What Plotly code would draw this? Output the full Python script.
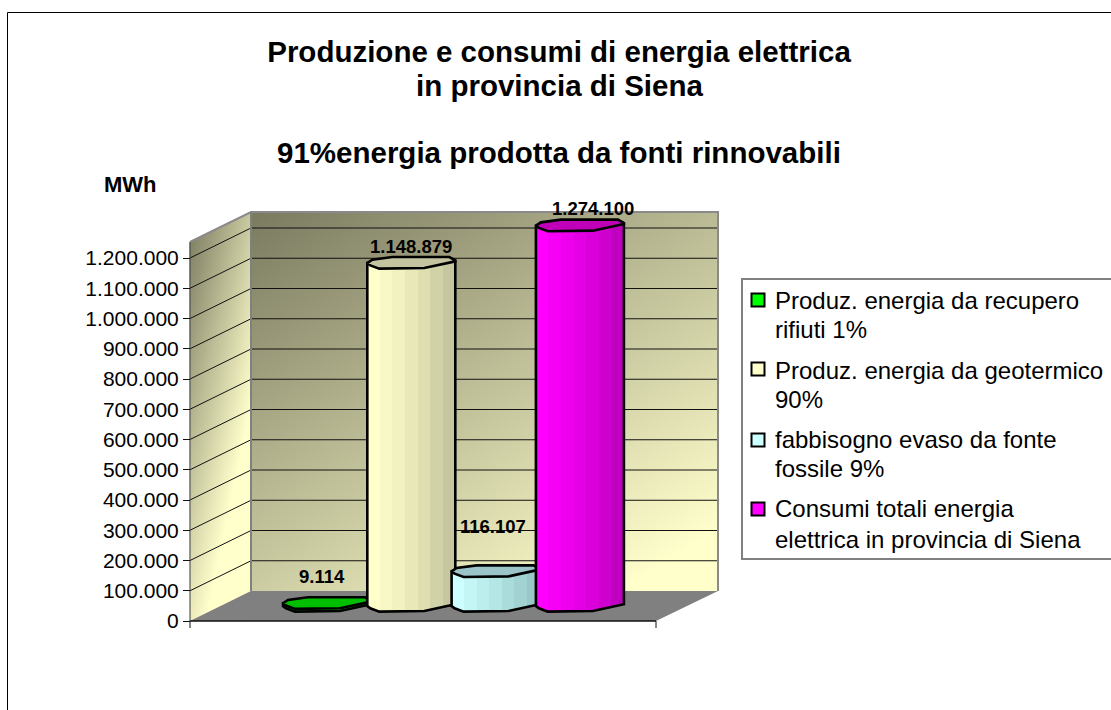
import numpy as np
import plotly.graph_objects as go

# ---- data ----
categories = [
    ["Produz. energia da recupero", "rifiuti 1%"],
    ["Produz. energia da geotermico", "90%"],
    ["fabbisogno evaso da fonte", "fossile 9%"],
    ["Consumi totali energia", "elettrica in provincia di Siena"],
]
values = [9114, 1148879, 116107, 1274100]
tick_values = [i * 100000 for i in range(13)]
tick_labels = ["0", "100.000", "200.000", "300.000", "400.000", "500.000", "600.000",
               "700.000", "800.000", "900.000", "1.000.000", "1.100.000", "1.200.000"]
title_main = "Produzione e consumi di energia elettrica"
title_rest = ["in provincia di Siena", "91%energia prodotta da fonti rinnovabili"]
unit_label = "MWh"

# ---- style ----
FONT = "Liberation Sans"
W, H = 1111, 710
Y0, PX_PER_UNIT = 621, 363 / 1200000
WALL_L, WALL_R, FLOOR_R, DX, DY = 190, 251, 718, 61, 30
FRONT_R = 656
TOP_PX = 212


def val(py):
    return (Y0 - py) / PX_PER_UNIT


depth = DY / PX_PER_UNIT
top_val = val(TOP_PX + DY)
bar_scale, bar_lift = 0.9868, val(606)
bar_first_centre, bar_step = 327, 84.3
cap_x = np.array([-44, -39, -19, 38, 44, 44, 13, -32, -41], float)
cap_y = np.array([0, 3.3, 6, 6, 2.7, 1.7, -5, -5.6, -2.3], float) / PX_PER_UNIT
palette = [
    dict(body=["#00D000", "#00C800", "#00C000", "#00B800", "#00B000", "#00A800", "#00A000"],
         cap="#00BF00", key="#00FF00"),
    dict(body=["#FFFFCC", "#F8F8C6", "#F2F2C0", "#E8E8B8", "#DEDEB0", "#D2D2A8", "#C6C6A0"],
         cap="#C4C4A0", key="#FFFFCC"),
    dict(body=["#CCFFFF", "#C4F6F6", "#BCEEEE", "#B4E6E6", "#ABDCDC", "#A2D2D2", "#99C8C8"],
         cap="#9BC4C8", key="#CCFFFF"),
    dict(body=["#FF00FF", "#F600F6", "#EE00EE", "#E400E4", "#DA00DA", "#CE00CE", "#C000C0"],
         cap="#C000B8", key="#FF00FF"),
]
label_pos = [(322, 576), (411, 246), (493, 526), (593, 208)]
key_y = [300, 369, 440, 509]
text_rows = [(300, 329), (370, 399), (439, 468), (508, 539)]

traces = []

# back wall (1 px cells so that the image does not spill past the wall)
bx = np.arange(WALL_R, FLOOR_R + 1.0)
by = np.arange(TOP_PX, 592.0)
u, v = np.meshgrid((bx - WALL_R) / (FLOOR_R - WALL_R), (by - TOP_PX) / (591 - TOP_PX))
wall_scale = [[0, "#7A7A60"], [1, "#FFFFCC"]]
traces.append(go.Heatmap(x=bx, y=val(by), z=np.clip(0.48 * u + 0.62 * v, 0, 1), zmin=0, zmax=1,
                         colorscale=wall_scale, showscale=False, hoverinfo="skip"))
# side wall
sx = np.arange(WALL_L, WALL_R + 1.0)
sy = np.arange(TOP_PX, Y0 + 1.0)
u, v = np.meshgrid((sx - WALL_L) / (WALL_R - WALL_L), (sy - TOP_PX) / (Y0 - TOP_PX))
traces.append(go.Heatmap(x=sx, y=val(sy), z=np.clip(0.6 * u + 0.85 * v, 0, 1), zmin=0, zmax=1,
                         colorscale=wall_scale, showscale=False, hoverinfo="skip"))


def poly(xs, ys, fill, line=None, width=0, **kw):
    return go.Scatter(x=list(xs), y=list(ys), mode="lines", fill="toself", fillcolor=fill,
                      line=dict(color=line or fill, width=width), hoverinfo="skip",
                      showlegend=False, **kw)


def seg(xs, ys, color="#111111", width=1):
    return go.Scatter(x=list(xs), y=list(ys), mode="lines", line=dict(color=color, width=width),
                      hoverinfo="skip", showlegend=False)


# mask above the side wall, floor
traces.append(poly([WALL_L - 4, WALL_R, WALL_R, WALL_L, WALL_L - 4],
                   [val(TOP_PX - 4), val(TOP_PX - 4), top_val + depth, top_val, top_val],
                   "#FFFFFF"))
traces.append(poly([WALL_L, FRONT_R, FLOOR_R, WALL_R], [0, 0, depth, depth], "#808080"))

# grid
for t in tick_values[1:]:
    traces.append(seg([WALL_L, WALL_R, FLOOR_R], [t, t + depth, t + depth]))

# wall edges
traces.append(seg([WALL_L, WALL_R, FLOOR_R, FLOOR_R], [top_val, top_val + depth, top_val + depth, depth],
                  "#8A8A8A", 2))
traces.append(seg([WALL_R, WALL_R], [depth, top_val + depth], "#808080", 2))
traces.append(seg([WALL_L, WALL_L], [0, top_val], "#444444", 1))
traces.append(seg([WALL_L, FRONT_R], [0, 0], "#111111", 1.5))
traces.append(seg([WALL_L, WALL_L], [0, val(Y0 + 7)], "#111111", 1))
traces.append(seg([FRONT_R, FRONT_R], [0, val(Y0 + 7)], "#111111", 1))

# cylinders
for i, (names, value, pal) in enumerate(zip(categories, values, palette)):
    cx = bar_first_centre + i * bar_step
    top = value * bar_scale + bar_lift
    front = [5, 6, 7, 8, 0]
    bx_ = [cx + cap_x[4]] + [cx + cap_x[j] for j in front] + [cx + cap_x[0], cx + cap_x[4]]
    by_ = [top + cap_y[4]] + [bar_lift + cap_y[j] for j in front] + [top, top + cap_y[4]]
    n = len(pal["body"])
    scale = []
    for k, c in enumerate(pal["body"]):
        scale += [[k / n, c], [(k + 1) / n, c]]
    traces.append(go.Scatter(
        x=bx_, y=by_, mode="lines", fill="toself", name=" ".join(names),
        fillgradient=dict(type="horizontal", colorscale=scale, start=cx + cap_x[0], stop=cx + cap_x[4]),
        line=dict(color="#000000", width=2.6), showlegend=False, hoverinfo="name"))
    traces.append(poly(list(cx + cap_x) + [cx + cap_x[0]], list(top + cap_y) + [top + cap_y[0]],
                       pal["cap"], "#000000", 2.6))

# legend keys
for names, ky, pal in zip(categories, key_y, palette):
    traces.append(go.Scatter(x=[758], y=[val(ky)], mode="markers", showlegend=False, hoverinfo="skip",
                             marker=dict(symbol="square", size=13, color=pal["key"],
                                         line=dict(color="#000000", width=2))))

annotations = []
for value, (lx, ly) in zip(values, label_pos):
    annotations.append(dict(x=lx, y=val(ly), xref="x", yref="y", showarrow=False,
                            text="<b>" + f"{value:,}".replace(",", ".") + "</b>",
                            font=dict(family=FONT, size=18.5, color="#000000")))
annotations.append(dict(x=130, y=val(184), xref="x", yref="y", showarrow=False,
                        text=f"<b>{unit_label}</b>", font=dict(family=FONT, size=22, color="#000000")))
for line, ly in zip(title_rest, (85, 152)):
    annotations.append(dict(x=559, y=val(ly), xref="x", yref="y", showarrow=False,
                            text=f"<b>{line}</b>", font=dict(family=FONT, size=29.5, color="#000000")))
for names, rows in zip(categories, text_rows):
    for line, ry in zip(names, rows):
        annotations.append(dict(x=773, y=val(ry), xref="x", yref="y", xanchor="left", showarrow=False,
                                text=line, font=dict(family=FONT, size=24, color="#000000")))

shapes = [
    dict(type="rect", xref="x", yref="y", x0=7.5, x1=W + 20, y0=val(12.5), y1=val(H + 20),
         line=dict(color="#000000", width=1), layer="below"),
    dict(type="rect", xref="x", yref="y", x0=742, x1=W + 20, y0=val(279), y1=val(559),
         line=dict(color="#808080", width=2), layer="below"),
]

fig = go.Figure(traces)
fig.update_layout(
    width=W, height=H, margin=dict(l=0, r=0, t=0, b=0, pad=0), autosize=False,
    paper_bgcolor="#FFFFFF", plot_bgcolor="#FFFFFF", showlegend=False,
    title=dict(text=f"<b>{title_main}</b>", x=559 / W, xanchor="center",
               y=1 - 52 / H, yanchor="middle", font=dict(family=FONT, size=29.5, color="#000000")),
    xaxis=dict(range=[0, W], domain=[0, 1], visible=False, fixedrange=True),
    yaxis=dict(range=[val(H), val(0)], domain=[0, 1], anchor="free", position=WALL_L / W,
               tickmode="array", tickvals=tick_values, ticktext=tick_labels,
               ticks="outside", ticklen=7, tickcolor="#111111", tickwidth=1, showgrid=False,
               zeroline=False, showline=False, fixedrange=True,
               tickfont=dict(family=FONT, size=21, color="#000000")),
    annotations=annotations, shapes=shapes,
)
fig.write_html("out.html", config=dict(displayModeBar=False),
               post_script="document.documentElement.style.overflow='hidden';document.body.style.margin='0';window.dispatchEvent(new Event('resize'));")
